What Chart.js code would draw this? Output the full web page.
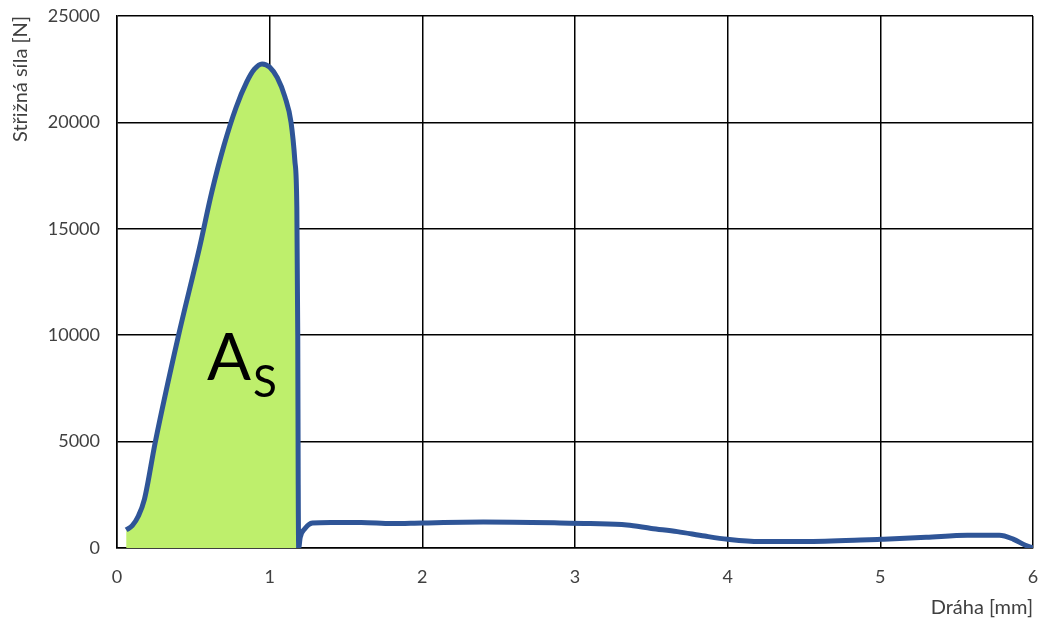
<!DOCTYPE html>
<html><head><meta charset="utf-8">
<script src="https://cdn.jsdelivr.net/npm/chart.js@4"></script>
<style>html,body{margin:0;padding:0;background:#fff}#wrap{width:1047px;height:623px;position:relative}</style>
</head><body><div id="wrap"><canvas id="c"></canvas></div>
<script>
// Data
const pathX = [0.06,0.1,0.14,0.18,0.25,0.40,0.54,0.62,0.7,0.78,0.85,0.9,0.95,1.0,1.05,1.1,1.14,1.165,1.178,1.184,1.187,1.19,1.2,1.23,1.28,1.4,1.6,1.8,2.0,2.4,2.9,3.1,3.34,3.5,3.67,3.85,4.0,4.21,4.47,4.87,5.0,5.3,5.57,5.78,5.87,5.95,6.0];
const force = [850,1050,1500,2300,4950,9900,14100,16700,18900,20700,21900,22500,22750,22600,22100,21200,20000,18200,16000,10000,3000,0,500,900,1170,1200,1200,1150,1180,1220,1180,1150,1080,920,770,560,410,300,300,375,410,500,600,600,420,130,0];
const areaEnd = 1.178; // x where the shaded area A_S ends
const xTicks = [0,1,2,3,4,5,6];
const yTicks = [0,5000,10000,15000,20000,25000];
const xTitle = 'Dráha [mm]';
const yTitle = 'Střižná síla [N]';
const areaLabel = 'A';
const areaSub = 'S';

const curve = pathX.map((x,i)=>({x, y:force[i]}));
const areaPts = curve.filter(p=>p.x<=areaEnd);
areaPts.push({x:areaEnd, y:0});

const FONT = 'Lato, "Open Sans", sans-serif';
const labelPlugin = {
  id:'asLabel',
  afterDatasetsDraw(chart){
    const {ctx, scales:{x,y}} = chart;
    ctx.save();
    ctx.fillStyle='#000';
    ctx.textBaseline='alphabetic';
    ctx.font='65px ' + FONT;
    const px = x.getPixelForValue(0.59), py = y.getPixelForValue(7900);
    ctx.fillText(areaLabel, px, py);
    const w = ctx.measureText(areaLabel).width;
    ctx.font='44px ' + FONT;
    ctx.fillText(areaSub, px + w + 2, py + 17);
    ctx.restore();
  }
};

new Chart(document.getElementById('c'), {
  type:'scatter',
  data:{datasets:[
    {data:curve, showLine:true, borderColor:'#2F5597', borderWidth:5, pointRadius:0, cubicInterpolationMode:'monotone', fill:false, order:1},
    {data:areaPts, showLine:true, borderWidth:0, borderColor:'rgba(0,0,0,0)', backgroundColor:'#BEEF6C', pointRadius:0, cubicInterpolationMode:'monotone', fill:'origin', order:2}
  ]},
  options:{
    responsive:true, maintainAspectRatio:false, animation:false,
    layout:{padding:{left:9,right:14,top:16,bottom:0}},
    plugins:{legend:{display:false}, tooltip:{enabled:false}},
    scales:{
      x:{type:'linear', min:0, max:6,
        afterBuildTicks(a){a.ticks = xTicks.map(v=>({value:v}));},
        afterFit(s){ s.height = 75; s.paddingLeft = 0; s.paddingRight = 0; },
        grid:{color:'#000', lineWidth:1.5, drawTicks:false},
        border:{color:'#000', width:1.5},
        ticks:{color:'#404040', font:{family:FONT, size:18}, padding:18, maxRotation:0},
        title:{display:true, text:xTitle, align:'end', color:'#404040', font:{family:FONT, size:20}, padding:{top:0,bottom:3}}
      },
      y:{type:'linear', min:0, max:25000,
        afterBuildTicks(a){a.ticks = yTicks.map(v=>({value:v}));},
        afterFit(s){ s.width = 108; s.paddingTop = 0; s.paddingBottom = 0; },
        grid:{color:'#000', lineWidth:1.5, drawTicks:false},
        border:{color:'#000', width:1.5},
        ticks:{color:'#404040', font:{family:FONT, size:18}, padding:17, callback:v=>String(v)},
        title:{display:true, text:yTitle, align:'end', color:'#404040', font:{family:FONT, size:20}, padding:{top:0,bottom:0}}
      }
    }
  },
  plugins:[labelPlugin]
});
</script></body></html>
